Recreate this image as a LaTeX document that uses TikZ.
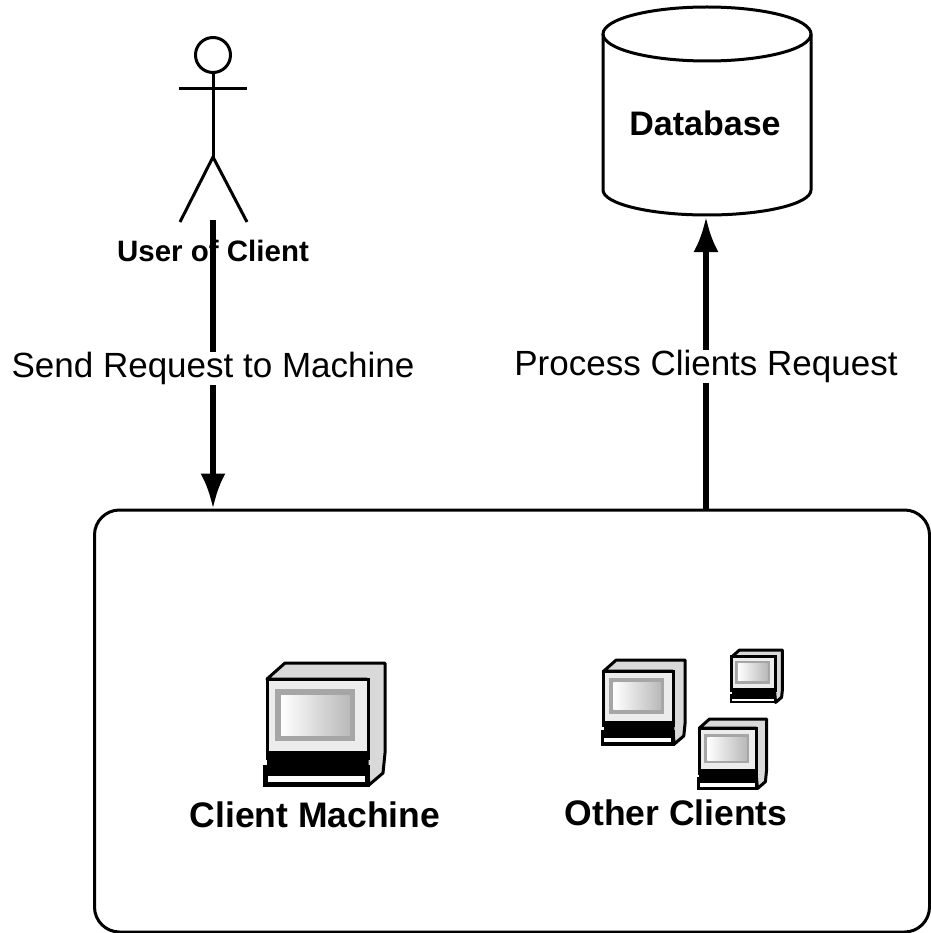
\documentclass[tikz,border=0pt]{standalone}
\usepackage{fontspec}
\setmainfont{Liberation Sans}
\usetikzlibrary{arrows.meta}
\tikzset{
    label text/.style={font=\fontsize{35}{40}\selectfont, fill=white, inner sep=0pt, yshift=-4pt},
    bold text/.style={font=\fontsize{#1}{40}\selectfont\bfseries, inner sep=0pt},
    flow/.style={line width=5.5pt, -{Latex[length=35pt,width=25pt]}},
    pics/computer/.style={code={
        % front, side and base of the machine, in pixels from its top left corner
        \draw[line width=#1, line join=round, fill=gray!30] (4,16) -- (22,0) -- (122,0) -- (122,90) -- (120,110) -- (106,122) -- (104,100) -- (104,16) -- cycle;
        \draw[line width=#1, fill=gray!15] (4,16) rectangle (105,95);
        \fill[gray!70] (12,26) rectangle (92,78);
        \shade[left color=white, right color=gray!55] (18,32) rectangle (87,72);
        \fill (4,88) rectangle (105,105);
        \fill (0,102) rectangle (107,124);
        \fill[white] (5,113) rectangle (102,119);
    }}
}
\begin{document}
\begin{tikzpicture}[x=1pt, y=-1pt]
    \useasboundingbox (0,0) rectangle (930,933);
    \def\lw{3pt}
    % the actor
    \node[circle, draw, line width=\lw, minimum size=35pt, inner sep=0pt] (head) at (213,55) {};
    \coordinate (hip) at (213,157);
    \coordinate (armL) at (179,89);
    \coordinate (armR) at (247,89);
    \coordinate (footL) at (180,222);
    \coordinate (footR) at (247,222);
    \coordinate (userEnd) at (213,220);
    \draw[line width=\lw] (head) -- (hip);
    \draw[line width=\lw] (armL) -- (armR);
    \draw[line width=\lw] (footL) -- (hip) -- (footR);
    \node[bold text=29.5] (user) at (213,251) {User of Client};

    % the cylinder
    \draw[line width=\lw] (707,34) ellipse [x radius=104, y radius=27];
    \draw[line width=\lw] (603,34) -- (603,190) arc[start angle=180, end angle=360, x radius=104pt, y radius=25pt] -- (811,34);
    \node[bold text=34] (database) at (705,123) {Database};
    \coordinate (dbBottom) at (706,217);

    \node[draw, line width=\lw, rounded corners=25pt, minimum width=835pt, minimum height=422pt] (clients) at (512,721) {};

    \draw[flow] (userEnd) -- node[label text] (send) {Send Request to Machine} (userEnd |- clients.north);
    \draw[flow] (dbBottom |- clients.north) -- node[label text] (process) {Process Clients Request} (dbBottom);

    \pic at (263,663) {computer=3pt};
    \node[bold text=35.5] (machine) at (315,815) {Client Machine};
    \pic[scale=0.69] at (601,660) {computer=3pt};
    \pic[scale=0.43] at (730,650) {computer=3pt};
    \pic[scale=0.57] at (697,719) {computer=3pt};
    \node[bold text=35.5] (others) at (676,813) {Other Clients};
\end{tikzpicture}
\end{document}
